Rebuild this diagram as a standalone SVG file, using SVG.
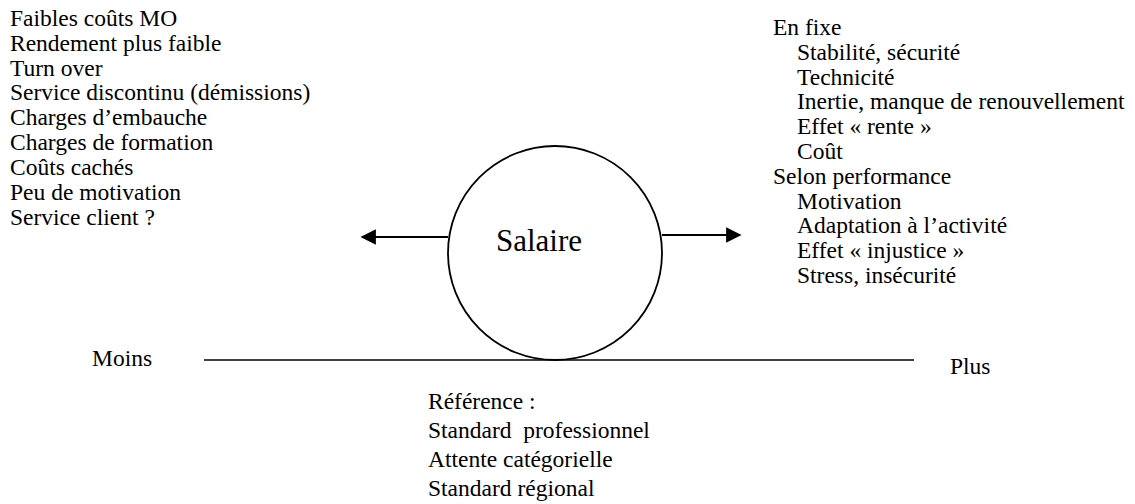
<svg xmlns="http://www.w3.org/2000/svg" width="1135" height="504" viewBox="0 0 1135 504">
  <style>
    text { font-family: "Liberation Serif", "Times New Roman", "DejaVu Serif", serif; font-size: 23.5px; fill: #000; }
    .big { font-size: 31px; }
    .axis { stroke: #000; stroke-width: 1.6; fill: none; }
    .arrow { stroke: #000; stroke-width: 2.2; fill: none; }
  </style>
  <defs>
    <marker id="head" viewBox="0 0 10 10" refX="9" refY="5" markerWidth="7.5" markerHeight="7" markerUnits="strokeWidth" orient="auto">
      <path d="M0,0 L10,5 L0,10 Z" fill="#000"/>
    </marker>
  </defs>

  <!-- left side: effects of low wages -->
  <g id="moins-effets">
    <text x="10" y="26">Faibles coûts MO</text>
    <text x="10" y="50.8">Rendement plus faible</text>
    <text x="10" y="75.6">Turn over</text>
    <text x="10" y="100.4">Service discontinu (démissions)</text>
    <text x="10" y="125.2">Charges d’embauche</text>
    <text x="10" y="150">Charges de formation</text>
    <text x="10" y="174.8">Coûts cachés</text>
    <text x="10" y="199.6">Peu de motivation</text>
    <text x="10" y="225">Service client ?</text>
  </g>

  <!-- right side: effects of higher wages -->
  <g id="plus-effets">
    <text x="773" y="35">En fixe</text>
    <text x="797" y="59.8">Stabilité, sécurité</text>
    <text x="797" y="84.6">Technicité</text>
    <text x="797" y="109.4">Inertie, manque de renouvellement</text>
    <text x="797" y="134.2">Effet « rente »</text>
    <text x="797" y="159">Coût</text>
    <text x="773" y="183.8">Selon performance</text>
    <text x="797" y="208.6">Motivation</text>
    <text x="797" y="233.4">Adaptation à l’activité</text>
    <text x="797" y="258.2">Effet « injustice »</text>
    <text x="797" y="283">Stress, insécurité</text>
  </g>

  <!-- central node -->
  <g id="salaire">
    <circle cx="555" cy="253" r="107" fill="#fff" stroke="#000" stroke-width="1.8"/>
    <text class="big" x="539" y="251" text-anchor="middle">Salaire</text>
  </g>

  <!-- scale axis -->
  <g id="axe">
    <line class="axis" x1="204" y1="360" x2="914" y2="360"/>
    <text x="92" y="366">Moins</text>
    <text x="950" y="374">Plus</text>
  </g>

  <!-- reference block -->
  <g id="reference">
    <text x="428" y="408.5">Référence :</text>
    <text x="428" y="438" xml:space="preserve">Standard  professionnel</text>
    <text x="428" y="467">Attente catégorielle</text>
    <text x="428" y="495.5">Standard régional</text>
  </g>

  <!-- connectors -->
  <g id="connecteurs">
    <line class="arrow" x1="448" y1="237" x2="362" y2="237" marker-end="url(#head)"/>
    <line class="arrow" x1="662" y1="235" x2="740" y2="235" marker-end="url(#head)"/>
  </g>
</svg>
